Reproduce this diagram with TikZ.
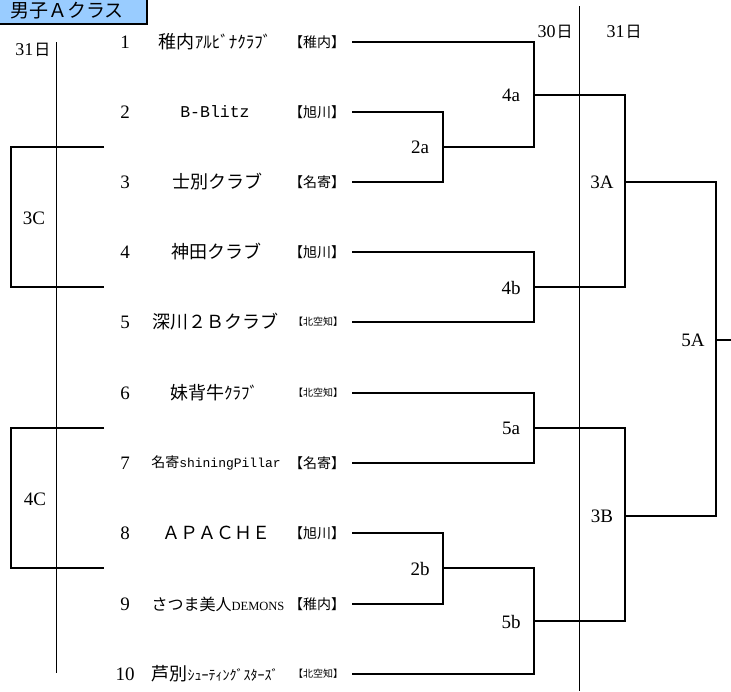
\documentclass[tikz,border=0pt]{standalone}
\usepackage{fontspec}
\setmainfont{Liberation Serif}
\newfontfamily\jp{Noto Sans CJK JP}
\newfontfamily\mono{Liberation Mono}
\newcommand\fsz[1]{\fontsize{#1}{#1}\selectfont}
\definecolor{titleblue}{HTML}{99CCFF}
\begin{document}
\begin{tikzpicture}[x=1pt,y=-1pt,
  br/.style={line width=2pt, line join=miter},
  dayline/.style={line width=1pt},
  lbl/.style={inner sep=0pt, font=\fsz{19}},
  num/.style={inner sep=0pt, font=\fsz{19}},
  team/.style={inner sep=0pt, font=\jp\fsz{18}},
  tag/.style={inner sep=0pt, font=\jp\fsz{14}},
  smalltag/.style={inner sep=0pt, font=\jp\fsz{10}},
  daylbl/.style={inner sep=0pt, font=\fsz{18}}]
\useasboundingbox (0,0) rectangle (731,691);
% title
\draw[line width=1.5pt, fill=titleblue] (-3,-3) rectangle (147,24);
\node[inner sep=0pt, font=\jp\fsz{19}] (title) at (67,11) {男子Ａクラス};
% day lines
\coordinate (d1top) at (56,42);
\coordinate (d1bot) at (56,673);
\coordinate (d2top) at (579,6);
\coordinate (d2bot) at (579,691);
\draw[dayline] (d1top) -- (d1bot);
\draw[dayline] (d2top) -- (d2bot);
\node[daylbl] (day31l) at (33,50) {31\kern1pt{\jp\fsz{16}日}};
\node[daylbl] (day30) at (555,32) {30\kern1pt{\jp\fsz{16}日}};
\node[daylbl] (day31r) at (624,32) {31\kern1pt{\jp\fsz{16}日}};
% numbers
\node[num] (n1) at (125,42) {1};
\node[num] (n2) at (125,112) {2};
\node[num] (n3) at (125,182) {3};
\node[num] (n4) at (125,252) {4};
\node[num] (n5) at (125,322) {5};
\node[num] (n6) at (125,393) {6};
\node[num] (n7) at (125,463) {7};
\node[num] (n8) at (125,533) {8};
\node[num] (n9) at (125,604) {9};
\node[num] (n10) at (125,674) {10};
% teams
\node[team] (t1) at (215,42) {稚内{\fsz{17}ｱﾙﾋﾞﾅｸﾗﾌﾞ}};
\node[team] (t2) at (215,112) {{\mono\fsz{16.5}B-Blitz}};
\node[team] (t3) at (217,182) {士別クラブ};
\node[team] (t4) at (216,252) {神田クラブ};
\node[team] (t5) at (215,322) {深川２Ｂクラブ};
\node[team] (t6) at (214,393) {妹背牛{\fsz{17}ｸﾗﾌﾞ}};
\node[team] (t7) at (216,463) {\fsz{14}名寄{\mono\fsz{13}shiningPillar}};
\node[team] (t8) at (216,533) {ＡＰＡＣＨＥ};
\node[team] (t9) at (218,604) {\fsz{16}さつま美人{\rmfamily\fsz{12.5}DEMONS}};
\node[team] (t10) at (215,674) {芦別{\fsz{14}ｼｭｰﾃｨﾝｸﾞｽﾀｰｽﾞ}};
% tags
\node[tag] (g1) at (317,42) {【稚内】};
\node[tag] (g2) at (317,112) {【旭川】};
\node[tag] (g3) at (317,182) {【名寄】};
\node[tag] (g4) at (317,252) {【旭川】};
\node[smalltag] (g5) at (318,322) {【北空知】};
\node[smalltag] (g6) at (318,393) {【北空知】};
\node[tag] (g7) at (317,463) {【名寄】};
\node[tag] (g8) at (317,533) {【旭川】};
\node[tag] (g9) at (317,604) {【稚内】};
\node[smalltag] (g10) at (318,674) {【北空知】};
% line starts
\coordinate (e1) at (352,42);
\coordinate (e2) at (352,112);
\coordinate (e3) at (352,182);
\coordinate (e4) at (352,252);
\coordinate (e5) at (352,322);
\coordinate (e6) at (352,393);
\coordinate (e7) at (352,463);
\coordinate (e8) at (352,533);
\coordinate (e9) at (352,604);
\coordinate (e10) at (352,674);
% junctions
\coordinate (j2a) at (443,147);
\coordinate (j4a) at (534,95);
\coordinate (j4b) at (534,287);
\coordinate (j3A) at (625,182);
\coordinate (j5a) at (534,428);
\coordinate (j2b) at (443,568);
\coordinate (j5b) at (534,621);
\coordinate (j3B) at (625,516);
\coordinate (j5A) at (716,340);
\coordinate (out) at (731,340);
\coordinate (j3C) at (11,217);
\coordinate (j4C) at (11,498);
\coordinate (l3a) at (104,147);
\coordinate (l3b) at (104,287);
\coordinate (l4a) at (104,428);
\coordinate (l4b) at (104,568);
% brackets
\draw[br] (e2) -| (j2a) |- (e3);
\draw[br] (e1) -| (j4a) |- (j2a);
\draw[br] (e4) -| (j4b) |- (e5);
\draw[br] (j4a) -| (j3A) |- (j4b);
\draw[br] (e6) -| (j5a) |- (e7);
\draw[br] (e8) -| (j2b) |- (e9);
\draw[br] (j2b) -| (j5b) |- (e10);
\draw[br] (j5a) -| (j3B) |- (j5b);
\draw[br] (j3A) -| (j5A) |- (j3B);
\draw[br] (j5A) -- (out);
\draw[br] (l3a) -| (j3C) |- (l3b);
\draw[br] (l4a) -| (j4C) |- (l4b);
% round labels
\node[lbl] (r2a) at (420,147) {2a};
\node[lbl] (r4a) at (511,95) {4a};
\node[lbl] (r4b) at (511,288) {4b};
\node[lbl] (r3A) at (602,182) {3A};
\node[lbl] (r5a) at (511,428) {5a};
\node[lbl] (r2b) at (420,569) {2b};
\node[lbl] (r5b) at (511,622) {5b};
\node[lbl] (r3B) at (602,516) {3B};
\node[lbl] (r5A) at (693,340) {5A};
\node[lbl] (r3C) at (34,218) {3C};
\node[lbl] (r4C) at (35,499) {4C};
\end{tikzpicture}
\end{document}
